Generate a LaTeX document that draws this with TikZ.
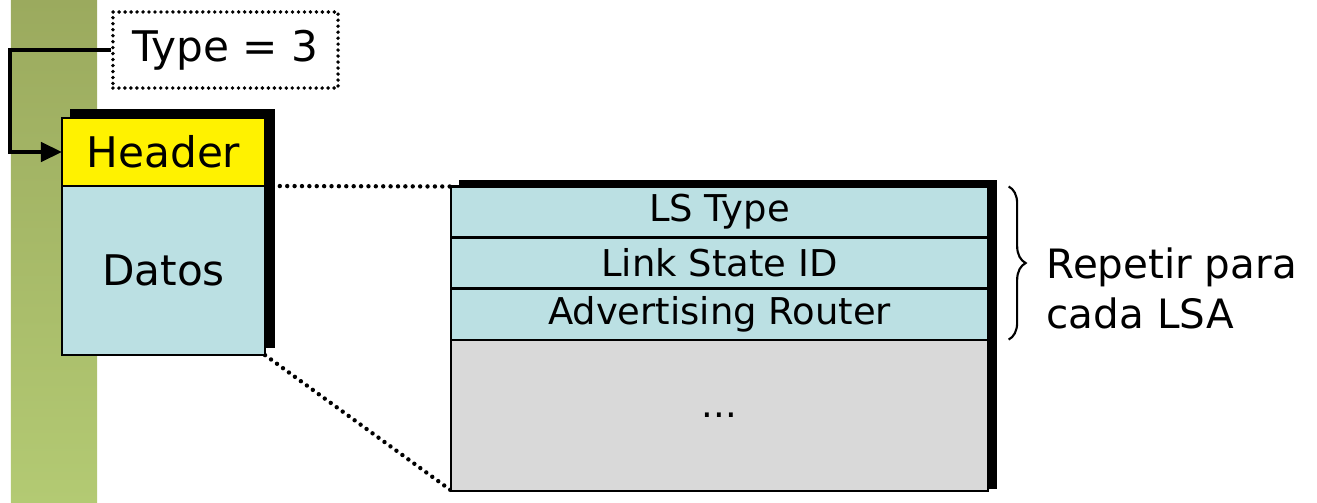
\documentclass[tikz,border=0pt]{standalone}
\usepackage{fontspec}
\setmainfont{DejaVu Sans}
\usetikzlibrary{positioning,arrows.meta,backgrounds,calc,decorations.pathreplacing}

\definecolor{barTop}{RGB}{155,170,94}
\definecolor{barBottom}{RGB}{179,202,115}
\definecolor{fieldblue}{RGB}{187,224,227}
\definecolor{restgray}{RGB}{217,217,217}

\tikzset{
  field/.style={draw, line width=0.6pt, fill=fieldblue, minimum width=5.36cm, minimum height=0.51cm,
    inner sep=0pt, outer sep=0pt, font=\fontsize{10.5pt}{12pt}\selectfont},
  packet/.style={draw, line width=0.6pt, minimum width=2.03cm, inner sep=0pt, outer sep=0pt,
    font=\fontsize{12pt}{14pt}\selectfont},
  zoomline/.style={line width=1.25pt, line cap=round, dash pattern=on 0pt off 2.1pt},
  shadowbox/.style={fill=black}
}

\begin{document}
\begin{tikzpicture}[x=0.01cm, y=-0.01cm]
    \useasboundingbox (0,0) rectangle (1317,503);

    \node[packet, fill=yellow, minimum height=0.68cm] (header) at (163.5,152) {Header};
    \node[packet, fill=fieldblue, minimum height=1.69cm, below=0pt of header] (datos) {Datos};
    \node[draw, line width=1.1pt, line cap=round, dash pattern=on 0pt off 1.7pt, minimum width=2.25cm, minimum height=0.76cm,
      font=\fontsize{12pt}{14pt}\selectfont] (type) at (225.5,50) {Type = 3};

    \node[field] (lstype) at (719.5,212) {LS Type};
    \node[field, below=0pt of lstype] (lsid) {Link State ID};
    \node[field, below=0pt of lsid] (advrouter) {Advertising Router};
    \node[field, fill=restgray, minimum height=1.51cm, below=0pt of advrouter] (rest) {...};

    \draw[line width=1.1pt, -{Triangle[length=6pt,width=5.5pt]}] (type.west) -- ++(-101,0) |- (header.west);

    \coordinate (bracetop) at ($(lstype.north east)+(21,0)$);
    \coordinate (bracebot) at ($(advrouter.south east)+(21,0)$);
    \draw[decorate, decoration={brace, amplitude=0.17cm}, line width=0.6pt] (bracetop) -- (bracebot);
    \node[anchor=west, align=left, inner sep=0pt, font=\fontsize{11.5pt}{14.2pt}\selectfont] (repetir) at (1046,288) {Repetir para\\cada LSA};

    \begin{scope}[on background layer]
        \shade[top color=barTop, bottom color=barBottom] (11,0) rectangle (97,503);
        \draw[zoomline] (datos.north east) -- (lstype.north west);
        \draw[zoomline] (datos.south east) -- (rest.south west);
        \fill[shadowbox] ($(header.north west)+(8,-9)$) rectangle ($(datos.south east)+(10,-7)$);
        \fill[shadowbox] ($(lstype.north west)+(8,-6)$) rectangle ($(rest.south east)+(9,-2)$);
    \end{scope}
\end{tikzpicture}
\end{document}
